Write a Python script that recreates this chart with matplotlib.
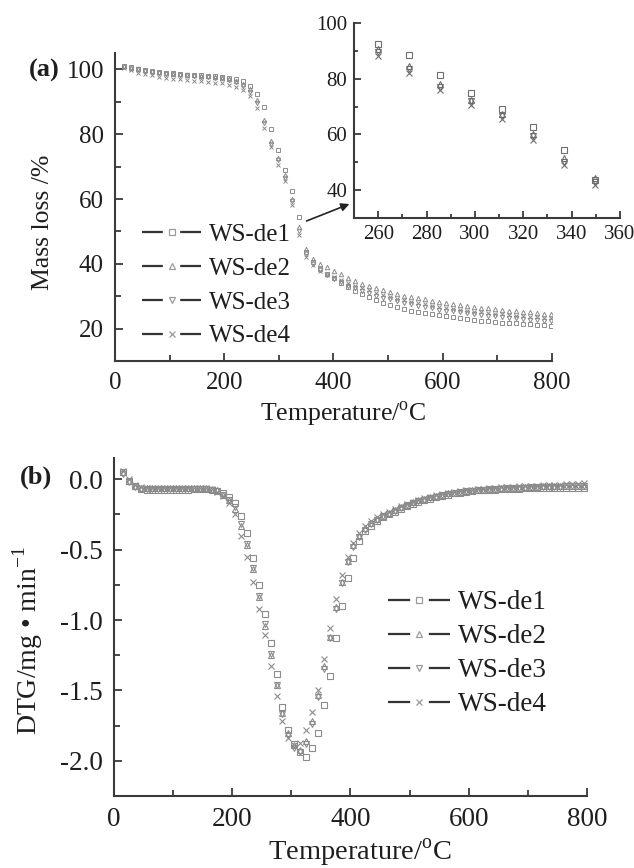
import matplotlib
matplotlib.use('Agg')
import matplotlib.pyplot as plt
from matplotlib.lines import Line2D
from matplotlib.ticker import MultipleLocator

plt.rcParams['font.family'] = ['Liberation Serif', 'DejaVu Serif']
plt.rcParams['mathtext.fontset'] = 'custom'
plt.rcParams['mathtext.rm'] = 'Liberation Serif'
plt.rcParams['lines.scale_dashes'] = False

# ---- data ---------------------------------------------------------------
names = ['WS-de1', 'WS-de2', 'WS-de3', 'WS-de4']
markers = ['s', '^', 'v', 'x']

# TG, temperature in degC
temp_tg = [16.8, 29.6, 42.4, 55.2, 68.0, 80.8, 93.6, 106.4, 119.2, 132.0,
           144.8, 157.6, 170.4, 183.2, 196.0, 208.8, 221.6, 234.4, 247.2, 260.0,
           272.8, 285.6, 298.4, 311.2, 324.0, 336.8, 349.6, 362.4, 375.2, 388.0,
           400.8, 413.6, 426.4, 439.2, 452.0, 464.8, 477.6, 490.4, 503.2, 516.0,
           528.8, 541.6, 554.4, 567.2, 580.0, 592.8, 605.6, 618.4, 631.2, 644.0,
           656.8, 669.6, 682.4, 695.2, 708.0, 720.8, 733.6, 746.4, 759.2, 772.0,
           784.8, 797.6]
tg_de1 = [101.0, 100.6, 100.2, 99.8, 99.5, 99.2, 99.0, 98.8, 98.6, 98.4,
          98.2, 98.1, 97.9, 97.8, 97.6, 97.4, 97.0, 96.3, 95.0, 92.5,
          88.5, 81.5, 75.0, 69.0, 62.5, 54.5, 43.5, 40.5, 38.5, 37.0,
          35.5, 34.0, 32.8, 31.6, 30.6, 29.7, 28.9, 28.0, 27.2, 26.6,
          26.0, 25.5, 25.1, 24.7, 24.4, 24.1, 23.8, 23.5, 23.3, 23.0,
          22.8, 22.5, 22.3, 22.1, 21.9, 21.8, 21.6, 21.4, 21.3, 21.2,
          21.0, 20.9]
tg_de2 = [101.0, 100.5, 100.1, 99.7, 99.4, 99.1, 98.9, 98.7, 98.5, 98.3,
          98.1, 97.9, 97.8, 97.6, 97.4, 97.0, 96.4, 95.5, 93.8, 90.5,
          84.5, 78.0, 72.5, 67.5, 60.0, 51.5, 44.5, 41.5, 39.8, 38.9,
          37.9, 36.8, 35.6, 34.6, 33.8, 33.1, 32.4, 31.8, 31.2, 30.7,
          30.2, 29.8, 29.4, 29.0, 28.6, 28.2, 27.9, 27.6, 27.3, 27.0,
          26.7, 26.5, 26.3, 26.0, 25.8, 25.6, 25.4, 25.2, 25.0, 24.8,
          24.6, 24.5]
tg_de3 = [100.8, 100.4, 100.0, 99.6, 99.2, 98.9, 98.7, 98.5, 98.3, 98.1,
          97.9, 97.7, 97.6, 97.4, 97.2, 96.8, 96.1, 95.0, 93.0, 89.5,
          83.5, 77.0, 72.0, 66.5, 59.5, 50.0, 43.0, 40.0, 38.0, 36.6,
          35.4, 34.3, 33.3, 32.4, 31.6, 30.9, 30.2, 29.6, 29.0, 28.5,
          28.0, 27.5, 27.1, 26.7, 26.3, 25.9, 25.6, 25.3, 25.0, 24.7,
          24.4, 24.2, 24.0, 23.8, 23.6, 23.4, 23.2, 23.0, 22.8, 22.6,
          22.4, 22.3]
tg_de4 = [100.5, 99.7, 99.0, 98.5, 98.1, 97.7, 97.4, 97.1, 96.9, 96.7,
          96.5, 96.3, 96.1, 95.9, 95.7, 95.3, 94.6, 93.5, 91.7, 88.0,
          82.0, 76.0, 70.5, 65.5, 58.0, 49.0, 42.0, 39.5, 37.8, 36.6,
          35.9, 35.0, 34.1, 33.3, 32.5, 31.8, 31.1, 30.5, 29.9, 29.3,
          28.8, 28.3, 27.9, 27.5, 27.1, 26.7, 26.4, 26.1, 25.8, 25.5,
          25.2, 25.0, 24.8, 24.6, 24.4, 24.2, 24.0, 23.8, 23.7, 23.5,
          23.4, 23.3]

# DTG, mg/min
temp_dtg = [15, 25, 35, 45, 55, 65, 75, 85, 95, 105,
            115, 125, 135, 145, 155, 165, 175, 185, 195, 205,
            215, 225, 235, 245, 255, 265, 275, 285, 295, 305,
            315, 325, 335, 345, 355, 365, 375, 385, 395, 405,
            415, 425, 435, 445, 455, 465, 475, 485, 495, 505,
            515, 525, 535, 545, 555, 565, 575, 585, 595, 605,
            615, 625, 635, 645, 655, 665, 675, 685, 695, 705,
            715, 725, 735, 745, 755, 765, 775, 785, 795]
dtg_de1 = [0.05, -0.01, -0.05, -0.07, -0.075, -0.075, -0.075, -0.075, -0.075, -0.075,
           -0.075, -0.075, -0.07, -0.07, -0.07, -0.075, -0.085, -0.10, -0.13, -0.17,
           -0.26, -0.38, -0.56, -0.75, -0.96, -1.16, -1.38, -1.62, -1.78, -1.88,
           -1.94, -1.97, -1.91, -1.80, -1.60, -1.40, -1.13, -0.90, -0.70, -0.56,
           -0.44, -0.37, -0.33, -0.30, -0.27, -0.25, -0.23, -0.21, -0.19, -0.175,
           -0.16, -0.15, -0.14, -0.13, -0.12, -0.11, -0.10, -0.095, -0.09, -0.085,
           -0.08, -0.078, -0.076, -0.074, -0.072, -0.07, -0.068, -0.067, -0.066, -0.065,
           -0.064, -0.063, -0.062, -0.061, -0.06, -0.06, -0.06, -0.06, -0.06]
dtg_de2 = [0.05, -0.01, -0.045, -0.06, -0.065, -0.065, -0.065, -0.065, -0.065, -0.065,
           -0.065, -0.065, -0.065, -0.065, -0.065, -0.07, -0.08, -0.11, -0.15, -0.21,
           -0.33, -0.47, -0.64, -0.84, -1.04, -1.25, -1.46, -1.66, -1.80, -1.89,
           -1.92, -1.86, -1.72, -1.53, -1.33, -1.12, -0.91, -0.73, -0.58, -0.47,
           -0.40, -0.35, -0.31, -0.28, -0.26, -0.24, -0.22, -0.20, -0.18, -0.165,
           -0.15, -0.14, -0.13, -0.12, -0.11, -0.10, -0.095, -0.09, -0.085, -0.08,
           -0.077, -0.074, -0.071, -0.068, -0.066, -0.064, -0.062, -0.06, -0.058, -0.056,
           -0.054, -0.052, -0.05, -0.049, -0.048, -0.047, -0.046, -0.045, -0.045]
dtg_de3 = [0.04, -0.02, -0.055, -0.07, -0.07, -0.07, -0.07, -0.07, -0.07, -0.07,
           -0.07, -0.07, -0.07, -0.07, -0.07, -0.075, -0.085, -0.11, -0.15, -0.20,
           -0.32, -0.46, -0.63, -0.83, -1.03, -1.24, -1.46, -1.67, -1.82, -1.91,
           -1.94, -1.88, -1.74, -1.55, -1.35, -1.13, -0.92, -0.74, -0.59, -0.48,
           -0.41, -0.36, -0.32, -0.29, -0.265, -0.245, -0.225, -0.205, -0.185, -0.17,
           -0.155, -0.145, -0.135, -0.125, -0.115, -0.105, -0.098, -0.092, -0.087, -0.082,
           -0.079, -0.076, -0.073, -0.07, -0.068, -0.066, -0.064, -0.062, -0.06, -0.058,
           -0.057, -0.056, -0.055, -0.054, -0.053, -0.052, -0.051, -0.05, -0.05]
dtg_de4 = [0.06, 0.0, -0.04, -0.055, -0.06, -0.06, -0.06, -0.06, -0.06, -0.06,
           -0.06, -0.06, -0.06, -0.06, -0.06, -0.07, -0.09, -0.12, -0.17, -0.25,
           -0.40, -0.55, -0.73, -0.92, -1.11, -1.33, -1.54, -1.72, -1.84, -1.89,
           -1.87, -1.78, -1.65, -1.50, -1.28, -1.06, -0.85, -0.68, -0.55, -0.45,
           -0.38, -0.33, -0.30, -0.27, -0.25, -0.23, -0.21, -0.19, -0.175, -0.16,
           -0.145, -0.135, -0.125, -0.115, -0.105, -0.095, -0.09, -0.085, -0.08, -0.075,
           -0.07, -0.067, -0.064, -0.061, -0.058, -0.056, -0.054, -0.052, -0.05, -0.048,
           -0.046, -0.044, -0.042, -0.04, -0.038, -0.036, -0.034, -0.032, -0.03]

tg_all = [tg_de1, tg_de2, tg_de3, tg_de4]
dtg_all = [dtg_de1, dtg_de2, dtg_de3, dtg_de4]

# ---- styling --------------------------------------------------------------
spine_c = '#3a3a3a'
mark_c = '#8c8c8c'
text_c = '#1e1e1e'


def style_axes(ax, fs, major_len=6, minor_len=4):
    for s in ['top', 'right']:
        ax.spines[s].set_visible(False)
    for s in ['left', 'bottom']:
        ax.spines[s].set_color(spine_c)
        ax.spines[s].set_linewidth(1.5)
    ax.tick_params(which='both', direction='in', color=spine_c, width=1.3,
                   labelsize=fs, labelcolor=text_c, top=False, right=False)
    ax.tick_params(which='major', length=major_len, pad=8)
    ax.tick_params(which='minor', length=minor_len)


def legend_handles(dash):
    hs = []
    for m in markers:
        hs.append(Line2D([], [], color='#333333', lw=1.6, linestyle=(0, dash),
                         marker=m, ms=4.5, mfc='none', mec='#9a9a9a', mew=0.9))
    return hs


fig = plt.figure(figsize=(6.34, 8.68), dpi=100)

# ---- panel (a) -------------------------------------------------------------
ax1 = fig.add_axes([0.1814, 0.584, 0.689, 0.3548])
for y, m in zip(tg_all, markers):
    ax1.plot(temp_tg, y, linestyle='none', marker=m, ms=3.2, mfc='none',
             mec=mark_c, mew=0.7)
ax1.set_xlim(0, 800)
ax1.set_ylim(10, 105)
ax1.xaxis.set_major_locator(MultipleLocator(200))
ax1.xaxis.set_minor_locator(MultipleLocator(100))
ax1.yaxis.set_major_locator(MultipleLocator(20))
ax1.yaxis.set_minor_locator(MultipleLocator(10))
ax1.set_yticks([20, 40, 60, 80, 100])
style_axes(ax1, 18)
ax1.set_xlabel('Temperature/$^{\\rm o}$C', fontsize=18.5, color=text_c)
ax1.xaxis.set_label_coords(0.522, -0.125)
ax1.set_ylabel('Mass loss /%', fontsize=18.5, color=text_c)
ax1.yaxis.set_label_coords(-0.14, 0.451)
ax1.legend(legend_handles((15, 12.5)), names, loc='upper left',
           bbox_to_anchor=(0.062, 0.446), frameon=False, fontsize=18,
           handlelength=2.36, handletextpad=0.32, labelspacing=0.45,
           borderpad=0, borderaxespad=0, labelcolor=text_c)
fig.text(0.045, 0.919, '(a)', fontsize=19, fontweight='bold', color=text_c,
         ha='left', va='center')

# inset
axin = fig.add_axes([0.5584, 0.7488, 0.4196, 0.2247])
for y, m in zip(tg_all, markers):
    axin.plot(temp_tg, y, linestyle='none', marker=m, ms=5, mfc='none',
              mec='#6e6e6e', mew=0.8)
axin.set_xlim(250, 360)
axin.set_ylim(30, 100)
axin.xaxis.set_minor_locator(MultipleLocator(10))
axin.set_xticks([260, 280, 300, 320, 340, 360])
axin.yaxis.set_minor_locator(MultipleLocator(10))
axin.set_yticks([40, 60, 80, 100])
style_axes(axin, 15, major_len=5, minor_len=3)
axin.tick_params(which='major', pad=5)
axin.set_facecolor('none')

# arrow from curve to inset
fig.add_artist(matplotlib.patches.FancyArrowPatch(
    (304 / 634, 1 - 222 / 868), (352 / 634, 1 - 203 / 868),
    transform=fig.transFigure, arrowstyle='-|>', mutation_scale=12,
    color='#222222', lw=1.2))

# ---- panel (b) -------------------------------------------------------------
ax2 = fig.add_axes([0.1798, 0.0829, 0.746, 0.3894])
for y, m in zip(dtg_all, markers):
    ax2.plot(temp_dtg, y, linestyle='none', marker=m, ms=4.2, mfc='none',
             mec=mark_c, mew=0.8)
ax2.set_xlim(0, 800)
ax2.set_ylim(-2.25, 0.15)
ax2.xaxis.set_major_locator(MultipleLocator(200))
ax2.xaxis.set_minor_locator(MultipleLocator(100))
ax2.yaxis.set_major_locator(MultipleLocator(0.5))
ax2.yaxis.set_minor_locator(MultipleLocator(0.25))
ax2.yaxis.set_major_formatter(matplotlib.ticker.FuncFormatter(
    lambda v, _: '{:.1f}'.format(v).replace('\u2212', '-')))
style_axes(ax2, 19.5)
ax2.set_xlabel('Temperature/$^{\\rm o}$C', fontsize=20.5, color=text_c)
ax2.xaxis.set_label_coords(0.52, -0.12)
ax2.set_ylabel('DTG/mg \u2022 min$^{\\rm{-}1}$', fontsize=20, color=text_c)
ax2.yaxis.set_label_coords(-0.145, 0.46)
ax2.legend(legend_handles((16, 13.4)), names, loc='upper left',
           bbox_to_anchor=(0.579, 0.609), frameon=False, fontsize=19.5,
           handlelength=2.3, handletextpad=0.3, labelspacing=0.33,
           borderpad=0, borderaxespad=0, labelcolor=text_c)
fig.text(0.032, 1 - 477 / 868, '(b)', fontsize=19, fontweight='bold', color=text_c,
         ha='left', va='center')

fig.savefig('out.png', dpi=100)
